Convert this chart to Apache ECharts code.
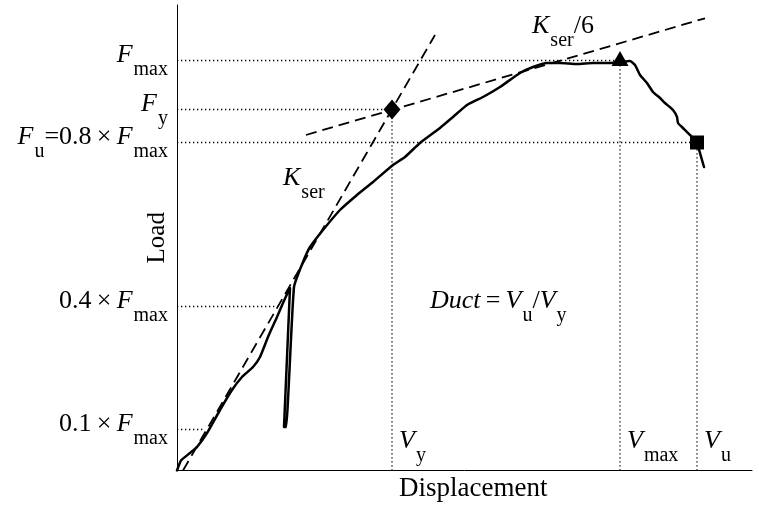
<!DOCTYPE html>
<html>
<head>
<meta charset="utf-8">
<script src="https://cdn.jsdelivr.net/npm/echarts@6/dist/echarts.min.js"></script>
<style>
  html, body { margin: 0; padding: 0; background: #fff; }
  #chart { width: 759px; height: 506px; }
</style>
</head>
<body>
<div id="chart"></div>
<script>
// Load–displacement response of the specimen (arbitrary units)
const curveDisp = [0, 4, 13, 20, 30, 43, 55, 65, 76, 83, 91, 100, 106, 111, 113,
  107, 109, 117, 126, 133, 146, 163, 180, 196, 216, 228, 243, 263, 276, 290, 306,
  323, 343, 356, 370, 383, 400, 416, 433, 443, 453, 458, 463, 470, 476, 483, 488,
  496, 500, 501, 506, 515, 520, 523, 527];
const curveLoad = [0, 10, 17.5, 23.5, 37.5, 60.5, 80.5, 93.5, 103.5, 113.5, 133.5,
  153.5, 167.5, 178.5, 182.5,
  43.5, 43.5, 183.5, 208.5, 223.5, 240.5, 260.5, 275.5, 288.5, 305.5, 313.5,
  327.5, 342.5, 353.5, 365.5, 373.5, 383.5, 397.5, 403.5, 407.5, 407.5, 406.5,
  407.5, 407.5, 408.5, 409.5, 405.5, 395.5, 387.5, 378.5, 372.5, 367.5, 360.5,
  353.5, 347.5, 342.5, 333.5, 327.5, 317.5, 303.5];

// Characteristic points
const Fmax = 410;          // peak load
const Fy = 361;            // yield load
const Vy = 215;            // yield displacement
const Vmax = 443;          // displacement at peak load
const Vu = 520;            // ultimate displacement
const levelFactors = { u: 0.8, mid: 0.4, low: 0.1 };
const Fu = levelFactors.u * Fmax;

// Secant stiffness lines (end points)
const kserLine = [[6, 0], [258, 435.5]];
const kser6Line = [[129, 335.5], [528, 452.2]];

// Where the 0.4 and 0.1 level guides meet the curve
const midLevelEnd = 101;
const lowLevelEnd = 28;

const xMax = 575;
const yMax = 465.5;

const SERIF = '"Liberation Serif", "DejaVu Serif", serif';
const INK = '#000';

const chart = echarts.init(document.getElementById('chart'), null, { renderer: 'canvas' });

const dotted = { color: INK, width: 1.3, type: [1.3, 2.7] };
const dashed = { color: INK, width: 1.8, type: [11, 6] };

function guide(a, b) {
  return {
    type: 'line', data: [a, b], showSymbol: false, silent: true,
    lineStyle: dotted, z: 1, animation: false
  };
}

const curveData = curveDisp.map((d, i) => [d, curveLoad[i]]);

const markerStyle = { color: INK, opacity: 1 };

const option = {
  backgroundColor: '#fff',
  animation: false,
  grid: { left: 177, right: 7, top: 5, bottom: 35.5, containLabel: false },
  xAxis: {
    type: 'value', min: 0, max: xMax,
    axisLine: { show: true, onZero: false, lineStyle: { color: INK, width: 1 } },
    axisTick: { show: false }, axisLabel: { show: false }, splitLine: { show: false }
  },
  yAxis: {
    type: 'value', min: 0, max: yMax,
    axisLine: { show: true, onZero: false, lineStyle: { color: INK, width: 1 } },
    axisTick: { show: false }, axisLabel: { show: false }, splitLine: { show: false }
  },
  series: [
    guide([0, Fmax], [Vmax, Fmax]),
    guide([0, Fy], [Vy, Fy]),
    guide([0, Fu], [Vu, Fu]),
    guide([0, levelFactors.mid * Fmax], [midLevelEnd, levelFactors.mid * Fmax]),
    guide([0, levelFactors.low * Fmax], [lowLevelEnd, levelFactors.low * Fmax]),
    guide([Vy, 0], [Vy, Fy]),
    guide([Vmax, 0], [Vmax, Fmax]),
    guide([Vu, 0], [Vu, Fu]),
    {
      type: 'line', data: kserLine, showSymbol: false, silent: true,
      lineStyle: dashed, z: 2
    },
    {
      type: 'line', data: kser6Line, showSymbol: false, silent: true,
      lineStyle: dashed, z: 2
    },
    {
      type: 'line', data: curveData, showSymbol: false, silent: true, smooth: 0.15,
      lineStyle: { color: INK, width: 2.5, join: 'round', cap: 'round' }, z: 3
    },
    {
      type: 'scatter', data: [[Vy, Fy]], symbol: 'diamond', symbolSize: [17, 20],
      itemStyle: markerStyle, z: 4, silent: true
    },
    {
      type: 'scatter', data: [[Vmax, Fmax]], symbol: 'triangle', symbolSize: [17, 15],
      symbolOffset: [0, -2], itemStyle: markerStyle, z: 4, silent: true
    },
    {
      type: 'scatter', data: [[Vu, Fu]], symbol: 'rect', symbolSize: [14, 14],
      itemStyle: markerStyle, z: 4, silent: true
    }
  ]
};

chart.setOption(option);

// ---- Annotations (math-style labels with subscripts) ----
const rich = {
  i: { fontFamily: SERIF, fontStyle: 'italic', fontSize: 26, verticalAlign: 'top', fill: INK },
  n: { fontFamily: SERIF, fontSize: 26, verticalAlign: 'top', fill: INK },
  d: { fontFamily: SERIF, fontSize: 27, verticalAlign: 'top', fill: INK },
  s: { fontFamily: SERIF, fontSize: 20, verticalAlign: 'top', padding: [18, 0, 0, 1], fill: INK }
};
const BASE = 22; // distance from block top to main baseline

const px = p => chart.convertToPixel({ gridIndex: 0 }, p);
const origin = px([0, 0]);

function label(text, x, baseline, align) {
  return {
    type: 'text', x: x, y: baseline - BASE, silent: true, z: 10,
    style: { text: text, rich: rich, align: align || 'left', verticalAlign: 'top', fill: INK }
  };
}

const leftX = origin[0] - 9;
const levelLabels = [
  { v: Fmax, t: '{i|F}{s|max}' },
  { v: Fy, t: '{i|F}{s|y}' },
  { v: Fu, t: '{i|F}{s|u}{n|=0.8\u2009×\u2009}{i|F}{s|max}' },
  { v: levelFactors.mid * Fmax, t: '{n|0.4\u2009×\u2009}{i|F}{s|max}' },
  { v: levelFactors.low * Fmax, t: '{n|0.1\u2009×\u2009}{i|F}{s|max}' }
];

const graphics = [];
levelLabels.forEach(l => {
  graphics.push(label(l.t, leftX, px([0, l.v])[1] + 3.5, 'right'));
});

const dispLabels = [
  { v: Vy, t: '{i|V}{s|y}' },
  { v: Vmax, t: '{i|V}{s|max}' },
  { v: Vu, t: '{i|V}{s|u}' }
];
dispLabels.forEach(l => {
  graphics.push(label(l.t, px([l.v, 0])[0] + 7, origin[1] - 20.5, 'left'));
});

const kserAt = px([106, 283.8]);
graphics.push(label('{i|K}{s|ser}', kserAt[0], kserAt[1], 'left'));
const kser6At = px([355, 435.5]);
graphics.push(label('{i|K}{s|ser}{n|/6}', kser6At[0], kser6At[1], 'left'));
const ductAt = px([253, 160.5]);
graphics.push(label('{i|Duct}{n|\u2009=\u2009}{i|V}{s|u}{n|/}{i|V}{s|y}', ductAt[0], ductAt[1], 'left'));

// Axis titles
graphics.push({
  type: 'text', x: 399, y: origin[1] + 26.5 - BASE, silent: true,
  style: { text: '{d|Displacement}', rich: rich, align: 'left', verticalAlign: 'top' }
});
graphics.push({
  type: 'text', x: 157, y: (origin[1] + px([0, yMax])[1]) / 2, rotation: Math.PI / 2, silent: true,
  style: { text: 'Load', font: '25px ' + SERIF, fill: INK, align: 'center', verticalAlign: 'middle' }
});

chart.setOption({ graphic: graphics });
</script>
</body>
</html>
